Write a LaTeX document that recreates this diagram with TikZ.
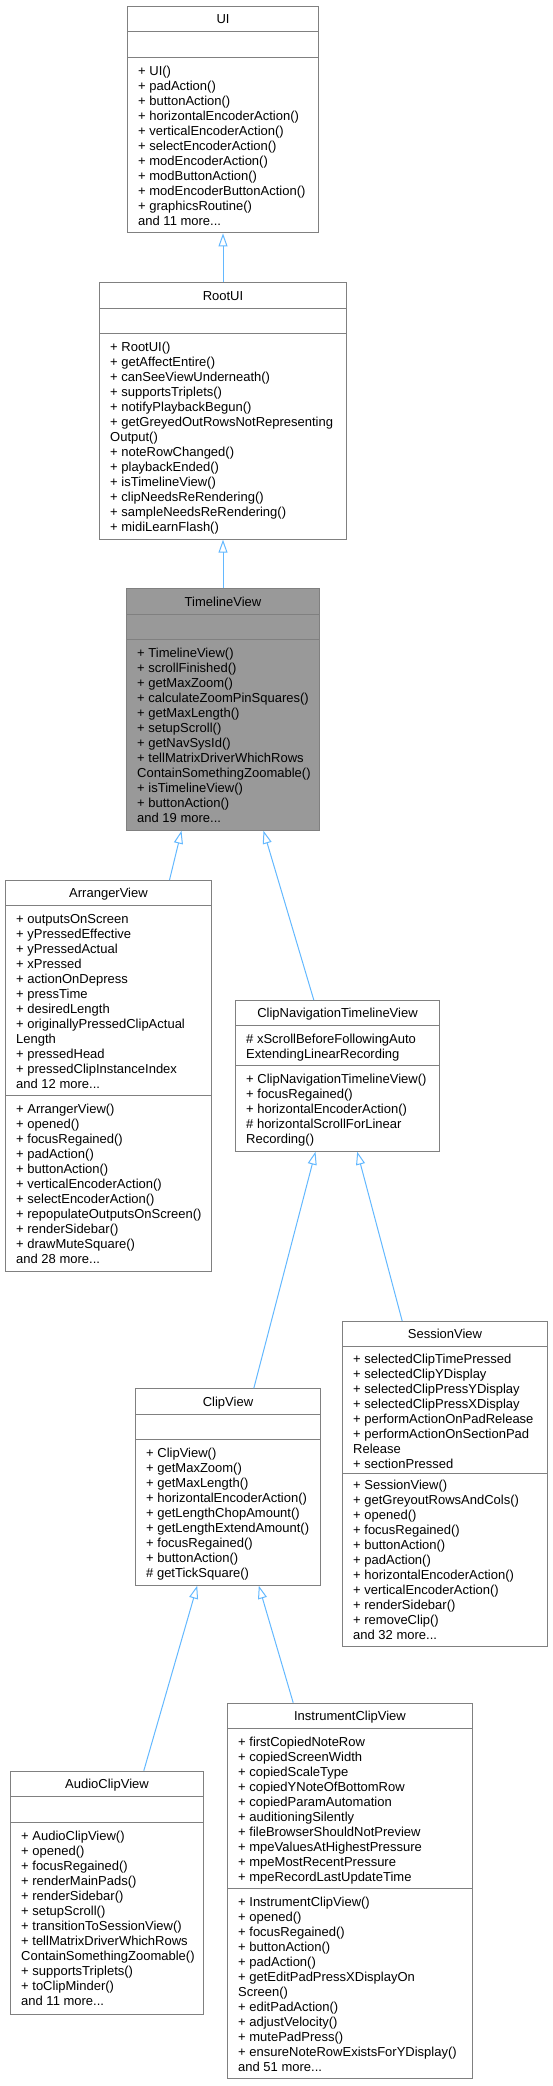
\documentclass[tikz,border=0pt]{standalone}
\usepackage{fontspec}
\setmainfont{Liberation Sans}
\usetikzlibrary{arrows.meta}
\definecolor{boxgray}{RGB}{128,128,128}
\definecolor{edgeblue}{RGB}{99,184,255}
\definecolor{activegray}{RGB}{153,153,153}

\begin{document}
\begin{tikzpicture}[x=1pt, y=-1pt,
    classbox/.style={draw=boxgray, line width=1pt, anchor=north west, inner sep=0pt},
    classline/.style={boxgray, line width=1pt},
    classname/.style={anchor=base, inner sep=0pt, font=\fontsize{13}{15}\selectfont},
    members/.style={anchor=north west, align=left, inner sep=0pt, font=\fontsize{13}{15}\selectfont},
    inherit/.style={edgeblue, line width=1pt, -{Triangle[open, length=13pt, width=9pt]}}]

    \useasboundingbox (0,0) rectangle (552,2086);

    % Draw class UI
    \node[classbox, minimum width=191pt, minimum height=226.4pt] (UI) at (127,6) {};
    \node[classname] (UIname) at ([yshift=-17.7pt]UI.north) {UI};
    \draw[classline] (127,31.7) -- (318,31.7);
    \draw[classline] (127,57.4) -- (318,57.4);
    \node[members] (UIops) at (138,64.9) {\strut + UI()\\ + padAction()\\ + buttonAction()\\
      + horizontalEncoderAction()\\ + verticalEncoderAction()\\ + selectEncoderAction()\\
      + modEncoderAction()\\ + modButtonAction()\\ + modEncoderButtonAction()\\
      + graphicsRoutine()\\ and 11 more...};

    % Draw class RootUI
    \node[classbox, minimum width=247pt, minimum height=256.4pt] (RootUI) at (99,282.3) {};
    \node[classname] (RootUIname) at ([yshift=-17.7pt]RootUI.north) {RootUI};
    \draw[classline] (99,308) -- (346,308);
    \draw[classline] (99,333.7) -- (346,333.7);
    \node[members] (RootUIops) at (110,341.2) {\strut + RootUI()\\ + getAffectEntire()\\
      + canSeeViewUnderneath()\\ + supportsTriplets()\\ + notifyPlaybackBegun()\\
      + getGreyedOutRowsNotRepresenting\\ Output()\\ + noteRowChanged()\\ + playbackEnded()\\
      + isTimelineView()\\ + clipNeedsReRendering()\\ + sampleNeedsReRendering()\\
      + midiLearnFlash()};

    % Draw class TimelineView (the one this graph is about)
    \node[classbox, fill=activegray, minimum width=193pt, minimum height=241.4pt] (TimelineView) at (126,588.3) {};
    \node[classname] (TimelineViewname) at ([yshift=-17.7pt]TimelineView.north) {TimelineView};
    \draw[classline] (126,614) -- (319,614);
    \draw[classline] (126,639.7) -- (319,639.7);
    \node[members] (TimelineViewops) at (137,647.2) {\strut + TimelineView()\\ + scrollFinished()\\
      + getMaxZoom()\\ + calculateZoomPinSquares()\\ + getMaxLength()\\ + setupScroll()\\
      + getNavSysId()\\ + tellMatrixDriverWhichRows\\ ContainSomethingZoomable()\\
      + isTimelineView()\\ + buttonAction()\\ and 19 more...};

    % Draw class ArrangerView
    \node[classbox, minimum width=206pt, minimum height=390.7pt] (ArrangerView) at (5,880) {};
    \node[classname] (ArrangerViewname) at ([yshift=-17.7pt]ArrangerView.north) {ArrangerView};
    \draw[classline] (5,905.7) -- (211,905.7);
    \node[members] (ArrangerViewattrs) at (16,913.2) {\strut + outputsOnScreen\\ + yPressedEffective\\
      + yPressedActual\\ + xPressed\\ + actionOnDepress\\ + pressTime\\ + desiredLength\\
      + originallyPressedClipActual\\ Length\\ + pressedHead\\ + pressedClipInstanceIndex\\
      and 12 more...};
    \draw[classline] (5,1095.7) -- (211,1095.7);
    \node[members] (ArrangerViewops) at (16,1103.2) {\strut + ArrangerView()\\ + opened()\\
      + focusRegained()\\ + padAction()\\ + buttonAction()\\ + verticalEncoderAction()\\
      + selectEncoderAction()\\ + repopulateOutputsOnScreen()\\ + renderSidebar()\\
      + drawMuteSquare()\\ and 28 more...};

    % Draw class ClipNavigationTimelineView
    \node[classbox, minimum width=204pt, minimum height=150.7pt] (ClipNavTimelineView) at (235,1000) {};
    \node[classname] (ClipNavTimelineViewname) at ([yshift=-17.7pt]ClipNavTimelineView.north) {ClipNavigationTimelineView};
    \draw[classline] (235,1025.7) -- (439,1025.7);
    \node[members] (ClipNavTimelineViewattrs) at (246,1033.2) {\strut \# xScrollBeforeFollowingAuto\\
      ExtendingLinearRecording};
    \draw[classline] (235,1065.7) -- (439,1065.7);
    \node[members] (ClipNavTimelineViewops) at (246,1073.2) {\strut + ClipNavigationTimelineView()\\
      + focusRegained()\\ + horizontalEncoderAction()\\ \# horizontalScrollForLinear\\ Recording()};

    % Draw class SessionView
    \node[classbox, minimum width=205pt, minimum height=325pt] (SessionView) at (342,1321) {};
    \node[classname] (SessionViewname) at ([yshift=-17.7pt]SessionView.north) {SessionView};
    \draw[classline] (342,1346.7) -- (547,1346.7);
    \node[members] (SessionViewattrs) at (353,1352.7) {\strut + selectedClipTimePressed\\
      + selectedClipYDisplay\\ + selectedClipPressYDisplay\\ + selectedClipPressXDisplay\\
      + performActionOnPadRelease\\ + performActionOnSectionPad\\ Release\\ + sectionPressed};
    \draw[classline] (342,1473) -- (547,1473);
    \node[members] (SessionViewops) at (353,1479) {\strut + SessionView()\\ + getGreyoutRowsAndCols()\\
      + opened()\\ + focusRegained()\\ + buttonAction()\\ + padAction()\\
      + horizontalEncoderAction()\\ + verticalEncoderAction()\\ + renderSidebar()\\
      + removeClip()\\ and 32 more...};

    % Draw class ClipView
    \node[classbox, minimum width=185pt, minimum height=196.4pt] (ClipView) at (135,1388.3) {};
    \node[classname] (ClipViewname) at ([yshift=-17.7pt]ClipView.north) {ClipView};
    \draw[classline] (135,1414) -- (320,1414);
    \draw[classline] (135,1439.7) -- (320,1439.7);
    \node[members] (ClipViewops) at (146,1447.2) {\strut + ClipView()\\ + getMaxZoom()\\
      + getMaxLength()\\ + horizontalEncoderAction()\\ + getLengthChopAmount()\\
      + getLengthExtendAmount()\\ + focusRegained()\\ + buttonAction()\\ \# getTickSquare()};

    % Draw class AudioClipView
    \node[classbox, minimum width=193pt, minimum height=243.4pt] (AudioClipView) at (10,1770.7) {};
    \node[classname] (AudioClipViewname) at ([yshift=-17.7pt]AudioClipView.north) {AudioClipView};
    \draw[classline] (10,1796.4) -- (203,1796.4);
    \draw[classline] (10,1822.1) -- (203,1822.1);
    \node[members] (AudioClipViewops) at (21,1829.6) {\strut + AudioClipView()\\ + opened()\\
      + focusRegained()\\ + renderMainPads()\\ + renderSidebar()\\ + setupScroll()\\
      + transitionToSessionView()\\ + tellMatrixDriverWhichRows\\ ContainSomethingZoomable()\\
      + supportsTriplets()\\ + toClipMinder()\\ and 11 more...};

    % Draw class InstrumentClipView
    \node[classbox, minimum width=245pt, minimum height=375.7pt] (InstrumentClipView) at (227,1702.7) {};
    \node[classname] (InstrumentClipViewname) at ([yshift=-17.7pt]InstrumentClipView.north) {InstrumentClipView};
    \draw[classline] (227,1728.4) -- (472,1728.4);
    \node[members] (InstrumentClipViewattrs) at (238,1735.9) {\strut + firstCopiedNoteRow\\
      + copiedScreenWidth\\ + copiedScaleType\\ + copiedYNoteOfBottomRow\\
      + copiedParamAutomation\\ + auditioningSilently\\ + fileBrowserShouldNotPreview\\
      + mpeValuesAtHighestPressure\\ + mpeMostRecentPressure\\ + mpeRecordLastUpdateTime};
    \draw[classline] (227,1888.4) -- (472,1888.4);
    \node[members] (InstrumentClipViewops) at (238,1895.9) {\strut + InstrumentClipView()\\ + opened()\\
      + focusRegained()\\ + buttonAction()\\ + padAction()\\ + getEditPadPressXDisplayOn\\
      Screen()\\ + editPadAction()\\ + adjustVelocity()\\ + mutePadPress()\\
      + ensureNoteRowExistsForYDisplay()\\ and 51 more...};

    % Draw inheritance edges (child -> parent)
    \draw[inherit] (RootUI.north) -- (UI.south);
    \draw[inherit] (TimelineView.north) -- (RootUI.south);
    \draw[inherit] ([xshift=61pt]ArrangerView.north) -- ([xshift=-41.5pt]TimelineView.south);
    \draw[inherit] ([xshift=-23.7pt]ClipNavTimelineView.north) -- ([xshift=40.5pt]TimelineView.south);
    \draw[inherit] ([xshift=25.8pt]ClipView.north) -- ([xshift=-22pt]ClipNavTimelineView.south);
    \draw[inherit] ([xshift=-42.8pt]SessionView.north) -- ([xshift=19.7pt]ClipNavTimelineView.south);
    \draw[inherit] ([xshift=36.8pt]AudioClipView.north) -- ([xshift=-30.8pt]ClipView.south);
    \draw[inherit] ([xshift=-56.8pt]InstrumentClipView.north) -- ([xshift=30.8pt]ClipView.south);
\end{tikzpicture}
\end{document}
